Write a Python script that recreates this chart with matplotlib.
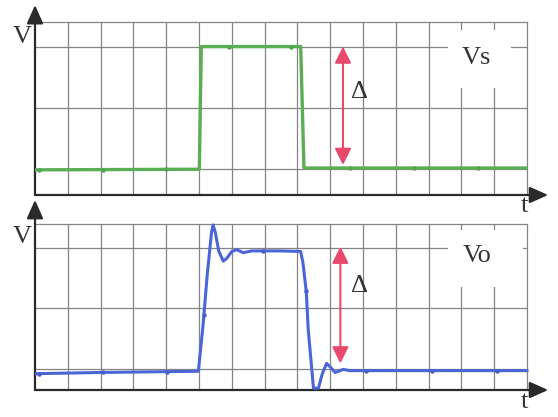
import numpy as np
import matplotlib
matplotlib.use("Agg")
import matplotlib.pyplot as plt
from matplotlib.patches import Rectangle

# source pulse (green trace)
vs_t = [0.05, 5.01, 5.07, 8.10, 8.20, 15.0]
vs_v = [-0.01, 0.0, 2.0, 2.0, 0.02, 0.02]
vs_marks = [0.12, 2.07, 4.0, 5.9, 7.8, 9.6, 11.56, 13.5]

# output response (blue trace) with overshoot and ringing
vo_t = [0.05, 2.0, 4.98, 5.12, 5.25, 5.38, 5.43, 5.5, 5.6, 5.74, 5.85, 6.0, 6.15,
        6.35, 6.6, 7.0, 7.5, 8.10, 8.17, 8.27, 8.33, 8.49, 8.64, 8.76, 8.89,
        9.02, 9.15, 9.4, 9.6, 10.0, 15.0]
vo_v = [-0.08, -0.06, -0.04, 0.7, 1.55, 2.25, 2.38, 2.25, 1.95, 1.78, 1.83, 1.94, 1.97,
        1.92, 1.95, 1.95, 1.95, 1.94, 1.75, 1.28, 0.65, -0.32, -0.32, -0.08, 0.09,
        0.02, -0.06, -0.01, -0.03, -0.03, -0.03]
vo_marks = [0.12, 2.07, 4.03, 5.15, 6.96, 8.27, 10.1, 12.1, 14.1]

# step amplitude shown by the red arrows
delta_top = (9.39, 2.0, 0.07)
delta_bot = (9.31, 2.02, 0.09)

W, H = 558, 417
fig = plt.figure(figsize=(W / 100, H / 100), dpi=100)
fig.patch.set_facecolor("white")

ax1 = fig.add_axes([35 / W, 1 - 195 / H, 492 / W, 173 / H])
ax2 = fig.add_axes([35 / W, 1 - 390 / H, 492 / W, 165.7 / H])

grid_c = "#858585"
axis_c = "#2a2a2a"
text_c = "#333333"
red = "#e84a6e"
serif = "Liberation Serif"


def setup(ax, ylo, yhi, tip):
    ax.set_xlim(0, 15)
    ax.set_ylim(ylo, yhi)
    ax.set_xticks(np.arange(1, 15))
    ax.set_yticks([0, 1, 2])
    ax.grid(True, color=grid_c, lw=0.9)
    ax.tick_params(length=0, labelleft=False, labelbottom=False)
    for s in ("top", "right"):
        ax.spines[s].set_color(grid_c)
        ax.spines[s].set_linewidth(0.9)
    for s in ("left", "bottom"):
        ax.spines[s].set_visible(False)
    style = "-|>,head_length=0.45,head_width=0.2"
    ax.annotate("", xy=(0, tip), xytext=(0, 0), xycoords="axes fraction",
                arrowprops=dict(arrowstyle=style, color=axis_c, lw=1.6,
                                mutation_scale=25, shrinkA=0, shrinkB=0),
                annotation_clip=False)
    ax.annotate("", xy=(1.043, 0), xytext=(0, 0), xycoords="axes fraction",
                arrowprops=dict(arrowstyle=style, color=axis_c, lw=1.6,
                                mutation_scale=25, shrinkA=0, shrinkB=0),
                annotation_clip=False)


setup(ax1, -0.42, 2.40, 1.098)
setup(ax2, -0.35, 2.39, 1.147)

# traces
ax1.plot(vs_t, vs_v, color="#5cae55", lw=2.4, zorder=3)
ax1.plot(vs_marks, np.interp(vs_marks, vs_t, vs_v), "o", color="#55a44e",
         ms=2.2, zorder=4)
ax2.plot(vo_t, vo_v, color="#4a66d6", lw=2.2, zorder=3, clip_on=False)
ax2.plot(vo_marks, np.interp(vo_marks, vo_t, vo_v), "o", color="#4560cc",
         ms=2.2, zorder=4)

# white patches behind the trace names
ax1.add_patch(Rectangle((12.59, 1.325), 1.92, 0.945, facecolor="white",
                        edgecolor="none", zorder=2))
ax2.add_patch(Rectangle((12.59, 1.36), 2.29, 0.94, facecolor="white",
                        edgecolor="none", zorder=2))

for ax, (x, y1, y0) in ((ax1, delta_top), (ax2, delta_bot)):
    ax.annotate("", xy=(x, y1), xytext=(x, y0),
                arrowprops=dict(arrowstyle="<|-|>,head_length=0.5,head_width=0.25",
                                color=red, lw=1.5, mutation_scale=20,
                                shrinkA=0, shrinkB=0), zorder=5)


def label(x, y, s, size=19):
    fig.text(x / W, 1 - y / H, s, ha="center", va="center", fontsize=size,
             color=text_c, family=serif)


label(22.7, 37, "V")
label(22.7, 237, "V")
label(476.7, 58, "Vs")
label(476.7, 256, "Vo")
label(360, 92, "Δ", 19)
label(360, 286, "Δ", 19)
label(524, 206, "t")
label(524, 402, "t")

fig.savefig("out.png", dpi=100)
